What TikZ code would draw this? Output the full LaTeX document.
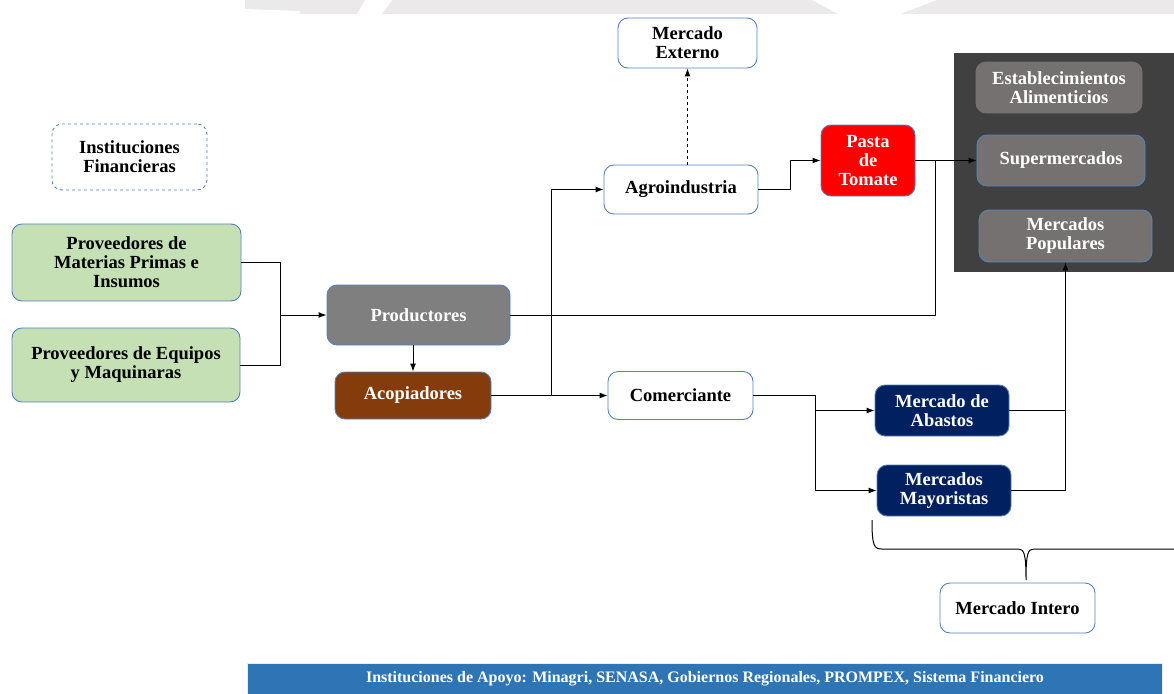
\documentclass[tikz,border=0pt]{standalone}
\usepackage{fontspec}
\setmainfont{Liberation Serif}
\usepackage{tikz}
\usetikzlibrary{arrows.meta,positioning,calc}
\definecolor{vcedge}{RGB}{84,130,190}
\definecolor{vcgreen}{RGB}{197,224,180}
\definecolor{vcgray}{RGB}{127,127,127}
\definecolor{vcbrown}{RGB}{132,60,12}
\definecolor{vcred}{RGB}{255,0,0}
\definecolor{vcnavy}{RGB}{0,32,96}
\definecolor{vcpanel}{RGB}{64,64,64}
\definecolor{vcstone}{RGB}{118,113,113}
\definecolor{vcbar}{RGB}{46,117,182}
\definecolor{wmgray}{RGB}{235,233,233}
\newcommand\boxfont{\bfseries\fontsize{18.5}{19}\selectfont}
\tikzset{
  box/.style={rounded corners=10pt, draw=vcedge, line width=0.9pt, fill=white,
    align=center, font=\boxfont, inner sep=0pt},
  darkbox/.style={box, text=white},
  arr/.style={-{Latex[length=8pt,width=6pt]}},
  link/.style={line width=1pt, black},
}

\begin{document}
\begin{tikzpicture}[x=1pt, y=-1pt]
  \useasboundingbox (0,0) rectangle (1174,693);

  % faint band along the top edge
  \fill[wmgray] (245,0) rectangle (1174,14);
  \fill[white] (245,9) -- (300,11) -- (300,14) -- (245,14) -- cycle;
  \fill[white] (357,14) -- (365,0) -- (392,0) -- (382,14) -- cycle;
  \fill[white] (812,0) -- (838,14) -- (900,14) -- (937,0) -- cycle;

  % Retail panel
  \fill[vcpanel] (954,53) rectangle (1174,272);

  % Boxes
  \node[box, minimum width=139, minimum height=50] (mext) at (687.5,43) {Mercado\\Externo};
  \node[box, dashed, minimum width=155, minimum height=66] (ifin) at (129.5,157) {Instituciones\\Financieras};
  \node[box, minimum width=154, minimum height=49] (agro) at (681,189.5) {Agroindustria};
  \node[darkbox, fill=vcred, minimum width=94, minimum height=71] (pasta) at (868,160.5) {Pasta\\de\\Tomate};
  \node[darkbox, fill=vcstone, draw=vcstone, minimum width=166, minimum height=51] (estab) at (1059,87.5) {Establecimientos\\Alimenticios};
  \node[darkbox, fill=vcstone, minimum width=168, minimum height=51] (super) at (1061,160.5) {Supermercados};
  \node[darkbox, fill=vcstone, minimum width=173, minimum height=52] (mpop) at (1065.5,236) {Mercados\\Populares};
  \node[box, fill=vcgreen, minimum width=229, minimum height=77] (prov1) at (126.5,262.5) {Proveedores de\\Materias Primas e\\Insumos};
  \node[box, fill=vcgreen, minimum width=228, minimum height=74] (prov2) at (126,365) {Proveedores de Equipos\\y Maquinaras};
  \node[darkbox, fill=vcgray, minimum width=183, minimum height=60] (prod) at (418.5,315) {Productores};
  \node[darkbox, fill=vcbrown, minimum width=156, minimum height=47] (acop) at (413,395.5) {Acopiadores};
  \node[box, minimum width=145, minimum height=48] (comer) at (680.5,395.5) {Comerciante};
  \node[darkbox, fill=vcnavy, minimum width=134, minimum height=51] (abast) at (942,410.5) {Mercado de\\Abastos};
  \node[darkbox, fill=vcnavy, minimum width=134, minimum height=51] (mayor) at (944,490.5) {Mercados\\Mayoristas};
  \node[box, minimum width=155, minimum height=50] (intero) at (1017.5,608) {Mercado Intero};

  % Support institutions bar
  \node[fill=vcbar, draw=wmgray, minimum width=915, minimum height=32, inner sep=0pt,
    text=white, font=\bfseries\fontsize{16}{17}\selectfont] (apoyo) at (705,679)
    {Instituciones de Apoyo: Minagri, SENASA, Gobiernos Regionales, PROMPEX, Sistema Financiero};

  % Junctions
  \coordinate (jprov) at (280,315);
  \coordinate (jprod) at (935,160.5);
  \coordinate (jacop) at (551,395.5);
  \coordinate (jcom) at (815,410.5);

  % Connectors
  \draw[link] (prov1.east) -| (jprov);
  \draw[link] (prov2.east) -| (jprov);
  \draw[link, arr] (jprov) -- (prod.west);
  \draw[link, arr] (prod.south -| acop.north) -- (acop.north);
  \draw[link] (prod.east) -| (jprod);
  \draw[link, arr] (pasta.east) -- (super.west);
  \draw[link] (acop.east) -- (jacop);
  \draw[link, arr] (jacop) -- (comer.west);
  \draw[link, arr] (jacop) |- (agro.west);
  \draw[link, arr] (agro.east) -- ++(32,0) |- (pasta.west);
  \draw[link, arr, dashed] (agro.north -| mext.south) -- (mext.south);
  \draw[link] (comer.east) -| (jcom);
  \draw[link, arr] (jcom) -- (abast.west);
  \draw[link, arr] (jcom) |- (mayor.west);
  \draw[link] (abast.east) -- (abast.east -| mpop.south);
  \draw[link, arr] (mayor.east) -| (mpop.south);

  % Brace over the domestic market
  \draw[link] (872,520) .. controls (872,546) and (874,549) .. (882,549)
    -- (1018,549) .. controls (1024,549) and (1026,553) .. (1026,580)
    .. controls (1026,553) and (1028,549) .. (1034,549) -- (1174,549);
\end{tikzpicture}
\end{document}
